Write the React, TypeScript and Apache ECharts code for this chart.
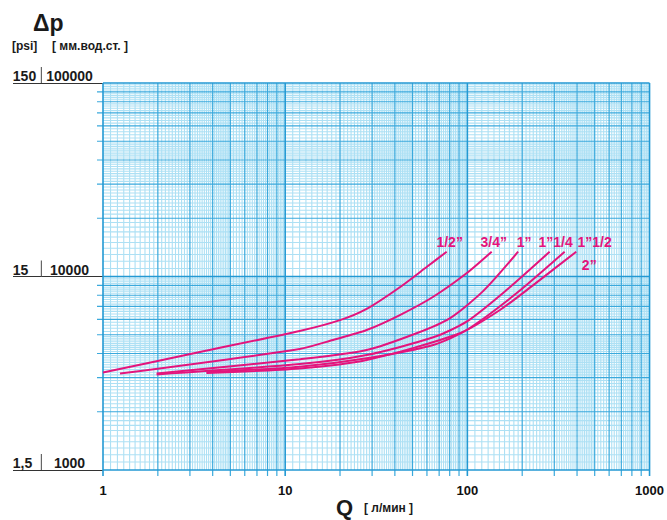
import React, { useEffect, useRef } from 'react';
import * as echarts from 'echarts';

// ---- data ----
const xTickLabels = ['1', '10', '100', '1000'];
const yPsiLabels = ['1,5', '15', '150'];
const yMmLabels = ['1000', '10000', '100000'];
const seriesNames = ['1/2”', '3/4”', '1”', '1”1/4', '1”1/2', '2”'];

const s12 = [[1.0, 3190], [3.4, 4070], [12, 5230], [20, 5950], [28, 6800], [42.6, 8800], [60, 11230], [77, 13430]];
const s34 = [[1.24, 3150], [12, 4220], [18.3, 4700], [28, 5290], [42.6, 6320], [65, 7860], [99, 10390], [136, 13430]];
const s1 = [[1.97, 3150], [12, 3735], [28, 4170], [52.6, 5090], [80, 6080], [122, 8400], [190, 13430]];
const s114 = [[1.97, 3120], [12, 3530], [28, 3930], [65, 4850], [99, 5840], [164, 8510], [283, 13430]];
const s112 = [[3.7, 3200], [12, 3420], [28, 3780], [65, 4430], [99, 5290], [186, 8190], [342, 13430]];
const s2 = [[3.7, 3170], [12, 3350], [28, 3700], [91, 5090], [151, 6710], [229, 9000], [396, 13430]];

const decadesX = [1, 10, 100];
const decadesY = [1000, 10000];
const edgesX = [1, 10, 100, 1000];
const edgesY = [1000, 10000, 100000];
const integerMantissas = [2, 3, 4, 5, 6, 7, 8, 9];
const fineMantissas = [
  1.1, 1.2, 1.3, 1.4, 1.5, 1.6, 1.7, 1.8, 1.9,
  2.1, 2.2, 2.3, 2.4, 2.5, 2.6, 2.7, 2.8, 2.9,
  3.1, 3.2, 3.3, 3.4, 3.5, 3.6, 3.7, 3.8, 3.9,
  4.1, 4.2, 4.3, 4.4, 4.5, 4.6, 4.7, 4.8, 4.9,
  5.2, 5.4, 5.6, 5.8, 6.2, 6.4, 6.6, 6.8,
  7.2, 7.4, 7.6, 7.8, 8.2, 8.4, 8.6, 8.8, 9.2, 9.4, 9.6, 9.8,
];

const FONT = '"Liberation Sans", Arial, Helvetica, sans-serif';
const MAGENTA = '#e3147c';

function buildGrid() {
  const out: number[][] = [];
  // kind 0 light, 1 integer, 2 decade ; dir 0 vertical, 1 horizontal
  decadesX.forEach((d) => fineMantissas.forEach((m) => out.push([m * d, 1000, 0, 0])));
  decadesY.forEach((d) => fineMantissas.forEach((m) => out.push([1, m * d, 0, 1])));
  decadesX.forEach((d) => integerMantissas.forEach((m) => out.push([m * d, 1000, 1, 0])));
  decadesY.forEach((d) => integerMantissas.forEach((m) => out.push([1, m * d, 1, 1])));
  edgesX.forEach((v) => out.push([v, 1000, 2, 0]));
  edgesY.forEach((v) => out.push([1, v, 2, 1]));
  return out;
}

export default function App() {
  const ref = useRef<HTMLDivElement>(null);
  useEffect(() => {
    document.body.style.margin = '0';
    const chart = echarts.init(ref.current!, null, { renderer: 'svg' });
    const curves = [s12, s34, s1, s114, s112, s2];
    const labelOffsets = [[3, -10], [2, -10], [6, -10], [6, -10], [30, -10], [13, 13]];

    const lineSeries = curves.map((data, i) => ({
      type: 'line',
      name: seriesNames[i],
      data,
      smooth: 0.25,
      showSymbol: false,
      symbol: 'none',
      z: 5,
      lineStyle: { color: MAGENTA, width: 2 },
      endLabel: {
        show: true,
        formatter: seriesNames[i],
        color: MAGENTA,
        fontFamily: FONT,
        fontWeight: 'bold',
        fontSize: 14,
        align: 'center',
        verticalAlign: 'middle',
        distance: 0,
        offset: labelOffsets[i],
      },
    }));

    const option: any = {
      animation: false,
      backgroundColor: '#ffffff',
      grid: { left: 103, right: 17, top: 83, bottom: 50, containLabel: false },
      xAxis: {
        type: 'log',
        logBase: 10,
        min: 1,
        max: 1000,
        axisLine: { show: false },
        axisTick: { show: false },
        splitLine: { show: false },
        axisLabel: {
          margin: 14,
          fontSize: 13,
          fontWeight: 'bold',
          color: '#111',
          fontFamily: FONT,
          showMinLabel: true,
          showMaxLabel: true,
          formatter: (v: number) => xTickLabels[Math.round(Math.log10(v))],
        },
      },
      yAxis: {
        type: 'log',
        logBase: 10,
        min: 1000,
        max: 100000,
        axisLine: { show: false },
        splitLine: { show: false },
        axisTick: { show: true, length: 90, lineStyle: { color: '#333', width: 1.2 } },
        axisLabel: {
          margin: 10,
          align: 'right',
          verticalAlign: 'bottom',
          showMinLabel: true,
          showMaxLabel: true,
          formatter: (v: number) => {
            const i = Math.round(Math.log10(v)) - 3;
            return `{a|${yPsiLabels[i]}}{s| }{g| }{b|${yMmLabels[i]}}`;
          },
          rich: {
            a: { width: 28, align: 'left', fontSize: 14, fontWeight: 'bold', color: '#1a1a1a', fontFamily: FONT, lineHeight: 16, verticalAlign: 'bottom' },
            s: { width: 1.2, height: 16, backgroundColor: '#666', lineHeight: 16, verticalAlign: 'bottom' },
            g: { width: 4, lineHeight: 16 },
            b: { width: 47, align: 'left', fontSize: 14, fontWeight: 'bold', color: '#1a1a1a', fontFamily: FONT, lineHeight: 16, verticalAlign: 'bottom' },
          },
        },
      },
      graphic: [
        { type: 'text', left: 33, top: 11, style: { text: 'Δp', font: `bold 23px ${FONT}`, fill: '#1a1a1a' } },
        { type: 'text', left: 12, top: 40, style: { text: '[psi]', font: `bold 12px ${FONT}`, fill: '#1a1a1a' } },
        { type: 'text', left: 52, top: 40, style: { text: '[ мм.вод.ст. ]', font: `bold 12px ${FONT}`, fill: '#1a1a1a' } },
        { type: 'text', left: 336, top: 496, style: { text: 'Q', font: `bold 22px ${FONT}`, fill: '#1a1a1a' } },
        { type: 'text', left: 364, top: 502, style: { text: '[ л/мин ]', font: `bold 12px ${FONT}`, fill: '#1a1a1a' } },
      ],
      series: [
        {
          type: 'custom',
          silent: true,
          clip: false,
          z: 1,
          encode: { x: 0, y: 1 },
          data: buildGrid(),
          renderItem: (_params: any, api: any) => {
            const v = api.value(0);
            const w = api.value(1);
            const kind = api.value(2);
            const dir = api.value(3);
            const stroke = kind === 0 ? '#ade0f4' : kind === 1 ? '#3aa9dc' : '#2399d3';
            const lineWidth = kind === 0 ? 1.1 : kind === 1 ? 1.2 : 1.6;
            const ext = kind === 0 ? 0 : 6;
            if (dir === 0) {
              const p0 = api.coord([v, 1000]);
              const p1 = api.coord([v, 100000]);
              return { type: 'line', shape: { x1: p0[0], y1: p0[1] + ext, x2: p1[0], y2: p1[1] }, style: { stroke, lineWidth } };
            }
            const p0 = api.coord([1, w]);
            const p1 = api.coord([1000, w]);
            const hx = kind === 1 ? ext : 0;
            return { type: 'line', shape: { x1: p0[0] - hx, y1: p0[1], x2: p1[0], y2: p1[1] }, style: { stroke, lineWidth } };
          },
        },
        ...lineSeries,
      ],
    };
    chart.setOption(option);
    return () => chart.dispose();
  }, []);
  return <div ref={ref} style={{ width: 667, height: 520, background: '#fff' }} />;
}
